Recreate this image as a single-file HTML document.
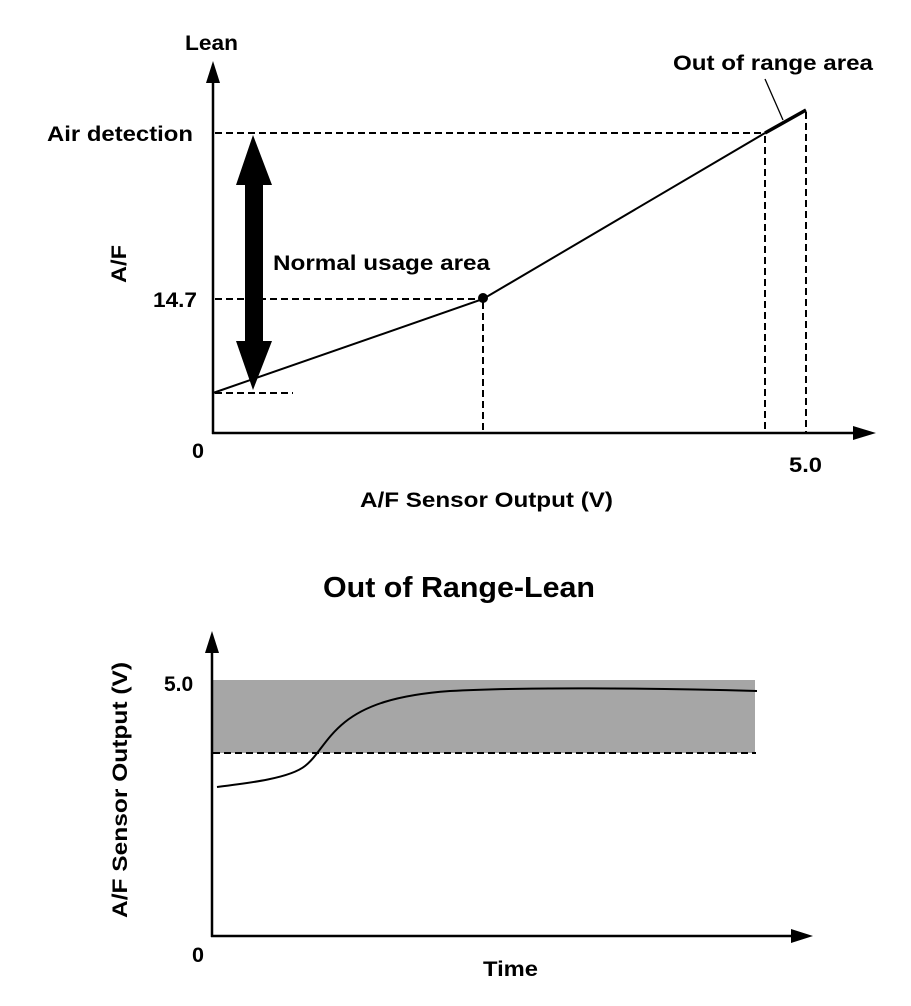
<!DOCTYPE html>
<html>
<head>
<meta charset="utf-8">
<style>
  html,body{margin:0;padding:0;background:#fff;}
  svg{display:block;}
  text{font-family:"Liberation Sans",Arial,sans-serif;font-weight:bold;fill:#000;}
</style>
</head>
<body>
<svg width="911" height="1006" viewBox="0 0 911 1006" xmlns="http://www.w3.org/2000/svg">
  <!-- ===== TOP CHART ===== -->
  <line x1="213" y1="434" x2="213" y2="80" stroke="#000" stroke-width="2.5"/>
  <polygon points="213,61 206,83 220,83" fill="#000"/>
  <line x1="212" y1="433" x2="855" y2="433" stroke="#000" stroke-width="2.5"/>
  <polygon points="876,433 853,426 853,440" fill="#000"/>

  <g stroke="#000" stroke-width="2" stroke-dasharray="7,4" fill="none">
    <line x1="215" y1="133" x2="765" y2="133"/>
    <line x1="215" y1="299" x2="483" y2="299"/>
    <line x1="215" y1="393" x2="293" y2="393"/>
    <line x1="483" y1="302" x2="483" y2="432"/>
    <line x1="765" y1="136" x2="765" y2="432"/>
    <line x1="806" y1="112" x2="806" y2="432"/>
  </g>

  <polyline points="213,393 483,299 765,133" fill="none" stroke="#000" stroke-width="2"/>
  <line x1="765" y1="133" x2="806" y2="110" stroke="#000" stroke-width="3.5"/>
  <circle cx="483" cy="298" r="5" fill="#000"/>
  <line x1="765" y1="79" x2="783" y2="120" stroke="#000" stroke-width="1.3"/>

  <polygon points="253,135 272,185 263,185 263,341 272,341 253,390 236,341 245,341 245,185 236,185" fill="#000"/>

  <text x="185" y="50" font-size="21" textLength="53" lengthAdjust="spacingAndGlyphs">Lean</text>
  <text x="47" y="141" font-size="21" textLength="146" lengthAdjust="spacingAndGlyphs">Air detection</text>
  <text x="273" y="270" font-size="21" textLength="217" lengthAdjust="spacingAndGlyphs">Normal usage area</text>
  <text x="153" y="307" font-size="21" textLength="44" lengthAdjust="spacingAndGlyphs">14.7</text>
  <text transform="translate(126,283) rotate(-90)" font-size="21" textLength="38" lengthAdjust="spacingAndGlyphs">A/F</text>
  <text x="673" y="70" font-size="21" textLength="200" lengthAdjust="spacingAndGlyphs">Out of range area</text>
  <text x="192" y="458" font-size="21" textLength="12" lengthAdjust="spacingAndGlyphs">0</text>
  <text x="789" y="472" font-size="21" textLength="33" lengthAdjust="spacingAndGlyphs">5.0</text>
  <text x="360" y="507" font-size="21" textLength="253" lengthAdjust="spacingAndGlyphs">A/F Sensor Output (V)</text>

  <!-- ===== BOTTOM CHART ===== -->
  <text x="323" y="597" font-size="29" textLength="272" lengthAdjust="spacingAndGlyphs">Out of Range-Lean</text>

  <rect x="213" y="680" width="542" height="73" fill="#a6a6a6"/>
  <line x1="213" y1="753" x2="756" y2="753" stroke="#000" stroke-width="2" stroke-dasharray="7,4"/>

  <line x1="212" y1="937" x2="212" y2="650" stroke="#000" stroke-width="2.5"/>
  <polygon points="212,631 205,653 219,653" fill="#000"/>
  <line x1="211" y1="936" x2="793" y2="936" stroke="#000" stroke-width="2.5"/>
  <polygon points="813,936 791,929 791,943" fill="#000"/>

  <path d="M217,787 C250,783 290,778 305,766 C318,756 325,738 345,722 C365,706 395,695 450,691 C520,687 650,688 757,691" fill="none" stroke="#000" stroke-width="2"/>

  <text x="164" y="691" font-size="21">5.0</text>
  <text x="192" y="962" font-size="21" textLength="12" lengthAdjust="spacingAndGlyphs">0</text>
  <text x="483" y="976" font-size="21" textLength="55" lengthAdjust="spacingAndGlyphs">Time</text>
  <text transform="translate(127,918) rotate(-90)" font-size="21" textLength="256" lengthAdjust="spacingAndGlyphs">A/F Sensor Output (V)</text>
</svg>
</body>
</html>
